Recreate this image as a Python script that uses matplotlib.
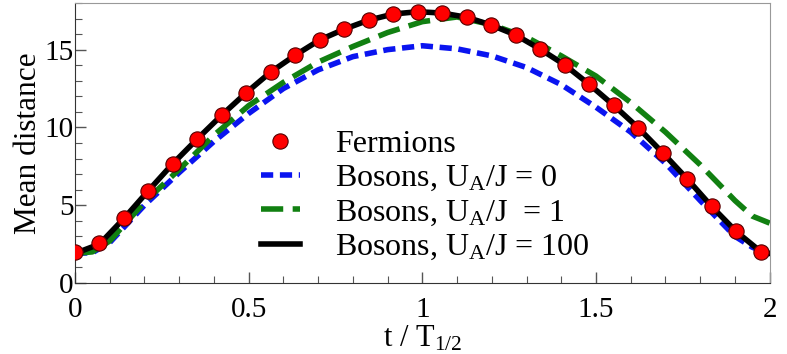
import matplotlib
matplotlib.use("Agg")
import matplotlib.pyplot as plt
from matplotlib.ticker import MultipleLocator

plt.rcParams['font.family'] = ['Liberation Serif', 'DejaVu Serif']
plt.rcParams['mathtext.fontset'] = 'custom'
plt.rcParams['mathtext.rm'] = 'Liberation Serif'
plt.rcParams['mathtext.it'] = 'Liberation Serif:italic'

# fermions (markers)
fermion_t = [k * 0.0705 for k in range(29)]
fermion_d = [1.98, 2.56, 4.17, 5.94, 7.68, 9.27, 10.8, 12.24, 13.57, 14.65,
             15.63, 16.32, 16.9, 17.29, 17.44, 17.35, 17.08, 16.58, 15.94,
             15.03, 14.02, 12.77, 11.42, 9.98, 8.37, 6.69, 4.92, 3.31, 2.02]

# bosons U_A/J = 100 (black line), follows the fermion points
hard_t = fermion_t + [2.0]
hard_d = [1.9, 2.5, 4.15, 5.94, 7.68, 9.27, 10.8, 12.24, 13.57, 14.65,
          15.63, 16.32, 16.9, 17.29, 17.44, 17.35, 17.08, 16.58, 15.94,
          15.03, 14.02, 12.77, 11.42, 9.98, 8.37, 6.69, 4.92, 3.31, 2.02, 1.9]

# bosons U_A/J = 0 (blue) and U_A/J = 1 (green)
grid_t = [0.0, 0.05, 0.1, 0.2, 0.3, 0.4, 0.5, 0.6, 0.7, 0.8, 0.9, 1.0,
          1.1, 1.2, 1.3, 1.4, 1.5, 1.6, 1.7, 1.8, 1.9, 1.95, 2.0]
free_d = [1.9, 1.95, 2.6, 5.0, 7.1, 9.1, 10.9, 12.5, 13.7, 14.55, 15.0, 15.25,
          15.05, 14.6, 13.85, 12.75, 11.3, 9.7, 7.7, 5.3, 3.0, 2.3, 1.85]
weak_d = [1.9, 2.0, 2.7, 5.2, 7.3, 9.5, 11.4, 12.9, 14.2, 15.2, 16.1, 16.8,
          17.1, 16.6, 15.8, 14.6, 13.3, 11.6, 9.7, 7.6, 5.3, 4.3, 3.85]

fig = plt.figure(figsize=(7.87, 3.54), dpi=100)
ax = fig.add_axes([0.0953, 0.2006, 0.8827, 0.791])

l0, = ax.plot(grid_t, free_d, color='#0a14f0', lw=4, dashes=(2.2, 1.2),
              label=r'Bosons, U$_{\mathrm{A}}$/J = 0', zorder=2)
l1, = ax.plot(grid_t, weak_d, color='#118011', lw=4, dashes=(4.0, 1.7),
              label=r'Bosons, U$_{\mathrm{A}}$/J  = 1', zorder=2)
l2, = ax.plot(hard_t, hard_d, color='black', lw=4,
              label=r'Bosons, U$_{\mathrm{A}}$/J = 100', zorder=3)
f, = ax.plot(fermion_t, fermion_d, 'o', color='#ff0000', markeredgecolor='#550000',
             markeredgewidth=0.8, markersize=11, label='Fermions', zorder=4)

ax.set_xlim(0, 2)
ax.set_ylim(0, 18)
ax.xaxis.set_minor_locator(MultipleLocator(0.1))
ax.yaxis.set_major_locator(MultipleLocator(5))
ax.yaxis.set_minor_locator(MultipleLocator(1))
ax.set_xticks([0, 0.5, 1, 1.5, 2])
ax.set_xticklabels(['0', '0.5', '1', '1.5', '2'])
ax.tick_params(which='both', direction='in', top=False, right=False,
               labelsize=21, color='#555555')
ax.tick_params(which='major', length=8, width=1)
ax.tick_params(which='minor', length=5, width=0.8)
ax.tick_params(axis='x', pad=10)
ax.tick_params(axis='y', pad=1)
for s in ['top', 'right']:
    ax.spines[s].set_color('#999999')
ax.spines['left'].set_color('#333333')
ax.spines['bottom'].set_color('#333333')

ax.set_xlabel(r't / T$_{1/2}$', fontsize=22, labelpad=1)
ax.set_ylabel('Mean distance', fontsize=22.5, labelpad=1)

ax.legend(handles=[f, l0, l1, l2], loc='upper left', bbox_to_anchor=(0.245, 0.605),
          frameon=False, fontsize=23, handlelength=1.2, handletextpad=1.1,
          labelspacing=0.15, borderpad=0)

fig.savefig('out.png', dpi=100)
